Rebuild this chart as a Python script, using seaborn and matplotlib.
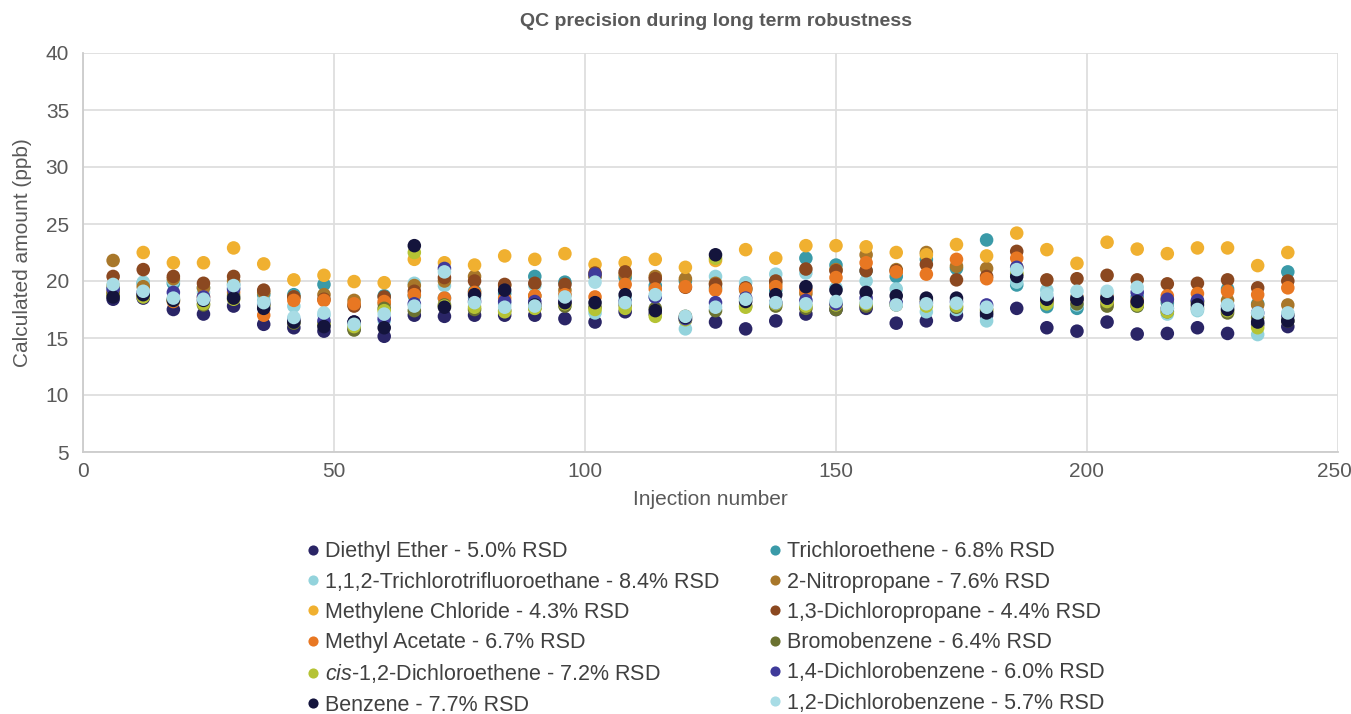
import numpy as np
import pandas as pd
import matplotlib
matplotlib.use("Agg")
import matplotlib.pyplot as plt
import matplotlib.transforms as mtransforms
import seaborn as sns

injections = list(range(6, 241, 6))

diethyl_ether = [18.4, 18.5, 17.5, 17.1, 17.8, 16.2, 15.9, 15.6, 15.8, 15.15, 17.0, 16.9, 17.0, 17.0, 17.0, 16.7, 16.4, 17.3, 17.1, 16.6,
                 16.4, 15.8, 16.5, 17.1, 17.5, 17.6, 16.3, 16.5, 17.0, 17.0, 17.6, 15.9, 15.6, 16.4, 15.35, 15.4, 15.9, 15.4, 16.2, 16.0]
trichlorotrifluoroethane = [19.2, 19.9, 20.0, 19.0, 19.4, 18.3, 17.8, 17.0, 16.0, 16.5, 19.8, 19.6, 18.5, 18.0, 19.6, 18.8, 17.2, 18.5, 18.6, 15.8,
                            20.4, 19.85, 20.6, 20.7, 19.4, 20.0, 19.3, 17.3, 17.5, 16.5, 19.9, 19.2, 17.9, 18.8, 17.8, 17.1, 17.4, 17.6, 15.3, 16.8]
methylene_chloride = [19.6, 22.5, 21.6, 21.6, 22.9, 21.5, 20.1, 20.5, 19.95, 19.85, 21.9, 21.6, 21.4, 22.2, 21.9, 22.4, 21.45, 21.6, 21.9, 21.2,
                      21.8, 22.75, 22.0, 23.1, 23.1, 23.0, 22.5, 22.3, 23.2, 22.2, 24.2, 22.75, 21.55, 23.4, 22.8, 22.4, 22.9, 22.9, 21.35, 22.5]
methyl_acetate = [19.0, 18.7, 18.2, 18.6, 19.0, 17.0, 18.3, 18.3, 18.0, 18.2, 18.8, 18.5, 19.0, 18.5, 18.7, 18.8, 18.6, 19.7, 19.3, 19.5,
                  19.2, 19.3, 19.5, 19.2, 20.3, 21.6, 20.8, 20.6, 21.9, 20.2, 22.0, 18.3, 18.4, 18.6, 18.3, 18.7, 18.9, 19.1, 18.8, 19.4]
cis_dichloroethene = [18.7, 18.6, 18.3, 18.0, 18.4, 17.9, 16.5, 16.3, 16.0, 17.4, 22.5, 17.8, 17.7, 17.3, 17.6, 18.0, 17.5, 17.6, 16.9, 16.6,
                      22.0, 17.7, 18.0, 17.8, 17.9, 18.0, 18.0, 17.8, 17.8, 17.4, 20.7, 18.0, 18.5, 18.2, 17.9, 17.3, 18.1, 17.4, 15.9, 17.0]
benzene = [18.6, 18.8, 18.3, 18.3, 18.5, 17.6, 16.4, 16.0, 16.4, 15.9, 23.1, 17.7, 18.8, 19.2, 17.9, 18.1, 18.1, 18.8, 17.4, 16.8,
           22.3, 18.2, 18.8, 19.5, 19.2, 19.0, 18.7, 18.5, 18.5, 17.2, 20.4, 18.4, 18.4, 18.5, 18.2, 17.6, 17.9, 17.5, 16.4, 16.5]
trichloroethene = [19.5, 19.8, 19.8, 19.4, 19.7, 18.8, 18.8, 19.7, 17.9, 18.7, 18.7, 18.5, 19.1, 18.9, 20.4, 19.9, 20.4, 20.3, 19.6, 20.0,
                   19.4, 19.3, 19.2, 22.0, 21.4, 20.9, 20.4, 21.9, 21.1, 23.6, 19.65, 17.75, 17.6, 18.4, 18.6, 18.1, 18.2, 19.3, 18.0, 20.8]
nitropropane = [21.8, 19.5, 20.2, 19.4, 20.0, 19.0, 18.6, 18.8, 18.3, 18.0, 19.6, 20.0, 20.4, 19.6, 18.7, 19.2, 20.4, 20.6, 20.4, 20.2,
                19.8, 19.2, 19.8, 18.9, 21.0, 22.3, 21.0, 22.5, 21.3, 21.1, 21.2, 18.3, 18.6, 18.05, 18.05, 18.4, 18.2, 18.3, 17.9, 17.9]
dichloropropane = [20.4, 21.0, 20.4, 19.8, 20.4, 19.2, 18.6, 18.4, 17.8, 18.6, 19.1, 20.3, 20.0, 19.7, 19.8, 19.7, 20.7, 20.8, 20.2, 19.45,
                   19.7, 19.4, 20.0, 21.05, 20.9, 20.9, 20.9, 21.45, 20.1, 20.4, 22.6, 20.1, 20.2, 20.5, 20.1, 19.75, 19.8, 20.1, 19.4, 20.0]
bromobenzene = [18.9, 18.7, 18.4, 17.9, 18.7, 17.9, 16.3, 16.2, 15.7, 17.6, 17.4, 17.9, 17.5, 17.4, 17.6, 17.8, 17.7, 17.9, 17.6, 16.9,
                17.4, 17.8, 17.8, 17.6, 17.5, 17.8, 17.9, 18.3, 17.7, 17.5, 20.6, 18.1, 18.0, 17.8, 17.8, 17.3, 17.6, 17.2, 16.8, 16.5]
dichlorobenzene_14 = [19.3, 19.0, 19.0, 18.6, 19.3, 18.0, 16.6, 16.5, 16.4, 16.7, 18.0, 21.1, 18.2, 18.2, 18.2, 18.2, 20.6, 18.2, 18.6, 16.7,
                      18.1, 18.5, 18.1, 18.3, 18.0, 18.5, 18.1, 18.1, 18.2, 17.9, 21.2, 18.5, 18.5, 18.5, 19.0, 18.4, 18.3, 17.8, 17.2, 17.0]
dichlorobenzene_12 = [19.7, 19.1, 18.5, 18.4, 19.6, 18.1, 16.8, 17.2, 16.2, 17.1, 17.8, 20.8, 18.1, 17.7, 17.8, 18.6, 19.9, 18.1, 18.8, 16.9,
                      17.7, 18.4, 18.1, 18.0, 18.2, 18.1, 17.9, 18.0, 18.05, 17.7, 21.0, 18.8, 19.1, 19.1, 19.45, 17.6, 17.5, 17.9, 17.2, 17.2]

labels = [
    "Diethyl Ether - 5.0% RSD",
    "1,1,2-Trichlorotrifluoroethane - 8.4% RSD",
    "Methylene Chloride - 4.3% RSD",
    "Methyl Acetate - 6.7% RSD",
    r"$\it{cis}$-1,2-Dichloroethene - 7.2% RSD",
    "Benzene - 7.7% RSD",
    "Trichloroethene - 6.8% RSD",
    "2-Nitropropane - 7.6% RSD",
    "1,3-Dichloropropane - 4.4% RSD",
    "Bromobenzene - 6.4% RSD",
    "1,4-Dichlorobenzene - 6.0% RSD",
    "1,2-Dichlorobenzene - 5.7% RSD",
]
series_values = [diethyl_ether, trichlorotrifluoroethane, methylene_chloride, methyl_acetate,
                 cis_dichloroethene, benzene, trichloroethene, nitropropane, dichloropropane,
                 bromobenzene, dichlorobenzene_14, dichlorobenzene_12]
colors = ["#2a2566", "#93d3dc", "#f0b030", "#e87722", "#b5c334", "#14143c",
          "#3a9aa8", "#a8772a", "#8b4820", "#6b7230", "#3f3a9a", "#a8dce5"]

# drawing order (Excel series order, row-major legend)
draw_order = [0, 6, 1, 7, 2, 8, 3, 9, 4, 10, 5, 11]

rows = []
for i in draw_order:
    for x, v in zip(injections, series_values[i]):
        rows.append((x, v, labels[i]))
df = pd.DataFrame(rows, columns=["Injection number", "Calculated amount (ppb)", "Compound"])

sns.set_theme(style="white")
plt.rcParams['font.family'] = ['Liberation Sans', 'DejaVu Sans']
plt.rcParams['mathtext.fontset'] = 'custom'
plt.rcParams['mathtext.it'] = 'Liberation Sans:italic'
plt.rcParams['mathtext.rm'] = 'Liberation Sans'

fig = plt.figure(figsize=(13.51, 7.14), dpi=100)
ax = fig.add_axes([83 / 1351, 1 - 452 / 714, (1338 - 83) / 1351, (452 - 53) / 714])

palette = dict(zip(labels, colors))
sns.scatterplot(data=df, x="Injection number", y="Calculated amount (ppb)", hue="Compound",
                hue_order=labels, palette=palette, s=95, linewidth=0, alpha=1.0,
                ax=ax, legend=True, zorder=3)

ax.set_xlim(0, 250)
ax.set_ylim(5, 40)
ax.set_xticks(range(0, 251, 50))
ax.set_yticks(range(5, 41, 5))
ax.grid(True, color="#dedede", linewidth=1.3, zorder=0)
ax.set_axisbelow(True)
for side in ["top", "right"]:
    ax.spines[side].set_visible(False)
for side in ["left", "bottom"]:
    ax.spines[side].set_color("#cccccc")
    ax.spines[side].set_linewidth(1.3)

tc = "#595959"
ax.tick_params(axis="both", labelsize=15, colors=tc, length=0)
ax.tick_params(axis="y", pad=10)
ax.tick_params(axis="x", pad=7)
ax.set_xlabel("Injection number", fontsize=15, color=tc, labelpad=7)
ax.set_ylabel("Calculated amount (ppb)", fontsize=15, color=tc, labelpad=10)
fig.text(716 / 1351, 1 - 21 / 714, "QC precision during long term robustness", ha="center", va="center",
         fontsize=14, fontweight="bold", color=tc)

# keep the last x tick label inside the canvas
last = ax.get_xticklabels()[-1]
last.set_transform(last.get_transform() + mtransforms.ScaledTranslation(-4 / 100, 0, fig.dpi_scale_trans))

handles, hl = ax.get_legend_handles_labels()
hmap = dict(zip(hl, handles))
ax.legend_.remove()
leg = fig.legend([hmap[l] for l in labels], labels, ncol=2, loc="upper left",
                 bbox_to_anchor=(285 / 1351, 1 - 522 / 714), frameon=False,
                 fontsize=15.5, markerscale=0.75, handletextpad=0.15, handlelength=0.8,
                 columnspacing=2.2, labelspacing=0.43, labelcolor="#404040")

fig.savefig("out.png", dpi=100)
